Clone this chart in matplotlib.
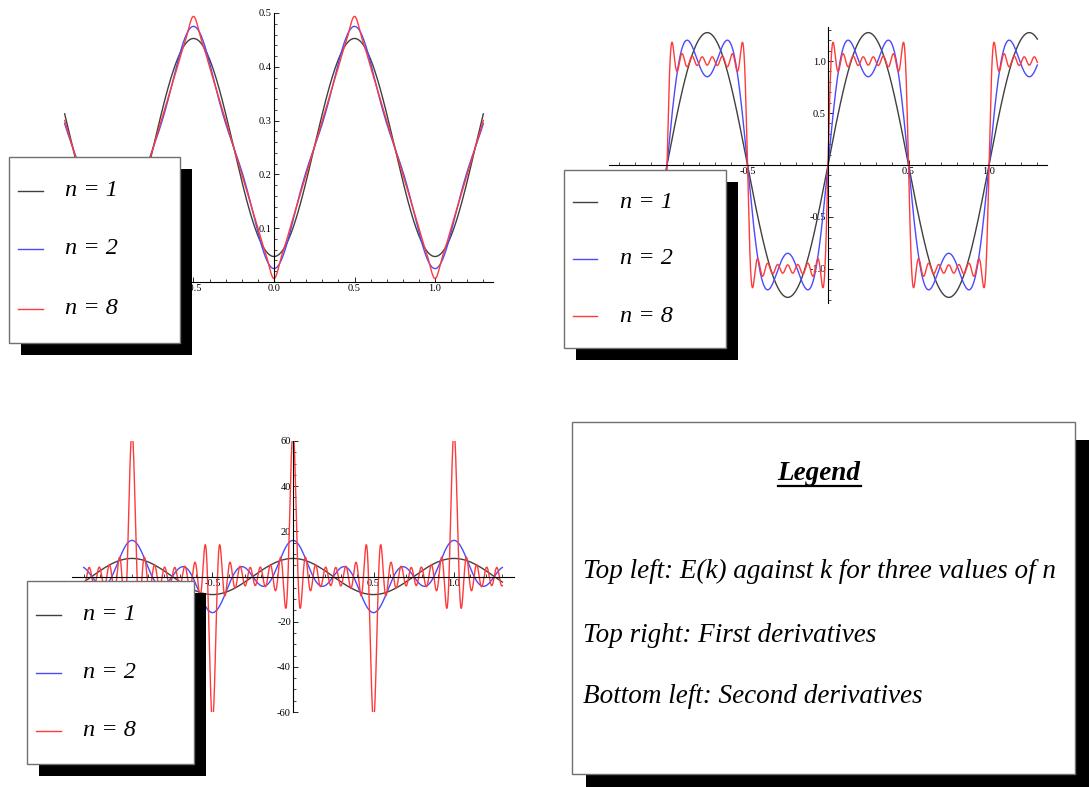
import numpy as np
import matplotlib
matplotlib.use("Agg")
import matplotlib.pyplot as plt
from matplotlib.patches import Rectangle
from matplotlib.ticker import MultipleLocator, FormatStrFormatter

# E(k) = mean - amp * sum_m cos(2 pi (2m+1) k)/(2m+1)^2, first n harmonics (read off the curves:
# n=1 min 0.047 / max 0.453, i.e. amp ~ 0.2026 = 2/pi^2)
k_range = (-1.3, 1.3)
n_values = [1, 2, 8]
labels = ["n = 1", "n = 2", "n = 8"]
e_mean = 0.25
e_amp = 2 / np.pi ** 2
colors = ["#404040", "#4a4aff", "#ff3a3a"]

legend_title = "Legend"
legend_lines = ["Top left: E(k) against k for three values of n",
                "Top right: First derivatives",
                "Bottom left: Second derivatives"]

W, H = 1091, 787
fig = plt.figure(figsize=(W / 100, H / 100), dpi=100)
SERIF = ["Liberation Serif", "DejaVu Serif"]


def place(x0, x1, y0, y1):
    """axes from pixel box (y measured from the top)"""
    return fig.add_axes([x0 / W, 1 - y1 / H, (x1 - x0) / W, (y1 - y0) / H])


def curve(k, n, order):
    h = 2 * np.arange(n) + 1
    arg = 2 * np.pi * np.outer(h, k)
    if order == 0:
        return e_mean - e_amp * (np.cos(arg) / h[:, None] ** 2).sum(0)
    if order == 1:
        return e_amp * 2 * np.pi * (np.sin(arg) / h[:, None]).sum(0)
    return e_amp * 4 * np.pi ** 2 * np.cos(arg).sum(0)


def style(ax, xticks, ymaj, ymin, yfmt, xlim, ylim):
    ax.set_xlim(*xlim); ax.set_ylim(*ylim)
    ax.patch.set_visible(False)
    for s in ["top", "right"]:
        ax.spines[s].set_visible(False)
    ax.spines["left"].set_position(("data", 0))
    ax.spines["bottom"].set_position(("data", 0))
    for s in ["left", "bottom"]:
        ax.spines[s].set_linewidth(0.8)
    ax.set_xticks(xticks)
    ax.xaxis.set_major_formatter(FormatStrFormatter("%.1f"))
    ax.xaxis.set_minor_locator(MultipleLocator(0.1))
    ax.set_yticks(ymaj)
    ax.yaxis.set_major_formatter(FormatStrFormatter(yfmt))
    ax.yaxis.set_minor_locator(MultipleLocator(ymin))
    ax.tick_params(which="major", direction="in", length=3.5, width=0.6, pad=1.5, labelsize=7.5)
    ax.tick_params(which="minor", direction="in", length=2, width=0.5)
    for lab in ax.get_xticklabels() + ax.get_yticklabels():
        lab.set_family(SERIF)


k = np.linspace(*k_range, 3000)

ax1 = place(55, 493, 13, 282)
ax2 = place(609, 1047, 26.7, 303.3)
ax3 = place(72.4, 513.6, 441, 712)
for order, ax in enumerate([ax1, ax2, ax3]):
    for n, c in zip(n_values, colors):
        ax.plot(k, curve(k, n, order), color=c, lw=1.0)

style(ax1, [-1, -0.5, 0, 0.5, 1], [0.1, 0.2, 0.3, 0.4, 0.5], 0.02, "%.1f", (-1.36, 1.36), (0, 0.5))
style(ax2, [-0.5, 0.5, 1], [-1, -0.5, 0.5, 1], 0.1, "%.1f", (-1.36, 1.36), (-1.33, 1.33))
style(ax3, [-0.5, 0.5, 1], [-60, -40, -20, 20, 40, 60], 5, "%d", (-1.37, 1.37), (-60, 60))

# overlay in pixel coordinates for the boxed legends
ov = fig.add_axes([0, 0, 1, 1])
ov.set_xlim(0, W); ov.set_ylim(H, 0); ov.axis("off")


def box(x0, y0, x1, y1, dx, dy):
    ov.add_patch(Rectangle((x0 + dx, y0 + dy), x1 - x0, y1 - y0, color="black", lw=0))
    ov.add_patch(Rectangle((x0, y0), x1 - x0, y1 - y0, facecolor="white", edgecolor="#707070", lw=1))


for (x0, y0, x1, y1), lx, tx, ys in [((9, 157, 180, 343), (18, 43), 65, (191, 249, 309)),
                                      ((564, 170, 726, 348), (573, 597), 620, (202, 259, 316)),
                                      ((27, 581, 194, 764), (36, 61), 83, (615, 673, 731))]:
    box(x0, y0, x1, y1, 12, 12)
    for lab, c, y in zip(labels, colors, ys):
        ov.plot(lx, [y, y], color=c, lw=1)
        ov.text(tx, y, lab, family=SERIF, style="italic", fontsize=17.5, va="center", ha="left")

box(572, 422, 1075, 774, 14, 18)
t = ov.text(819, 480, legend_title, family=SERIF, style="italic", weight="bold", fontsize=19.5,
            ha="center", va="baseline")
for txt, yb in zip(legend_lines, [578, 642, 703]):
    ov.text(583, yb, txt, family=SERIF, style="italic", fontsize=19.5, ha="left", va="baseline")

fig.canvas.draw()
bb = t.get_window_extent()
ov.plot([bb.x0, bb.x1], [H - 486, H - 486], color="black", lw=1.6,
        transform=matplotlib.transforms.IdentityTransform())

fig.savefig("out.png", dpi=100)
